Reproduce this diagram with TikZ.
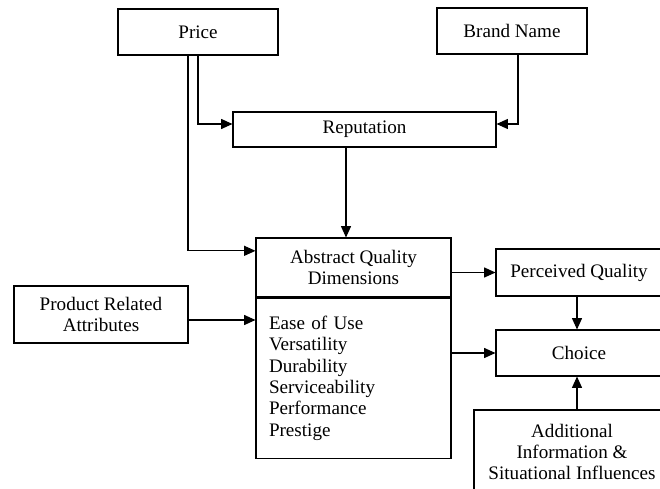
\documentclass[tikz,border=0pt]{standalone}
\usepackage{fontspec}
\setmainfont{Liberation Serif}
\usepackage{tikz}
\usetikzlibrary{positioning,arrows.meta,calc}

\begin{document}
\begin{tikzpicture}[
  line width=0.9pt,
  box/.style={draw, line width=0.9pt, align=center, inner sep=0pt,
              font=\fontsize{16.3}{17.7}\selectfont},
  listbox/.style={draw, line width=0.9pt, align=left, inner xsep=0.39cm,
                  text width=5.07cm, minimum height=4.8cm,
                  font=\fontsize{16.3}{18.2}\selectfont},
  ]
  \useasboundingbox (0,0) rectangle (19.8,-14.67);
  \clip (0,0) rectangle (19.8,-14.67);
  \node[box, minimum width=4.8cm, minimum height=1.38cm] (price) at (5.94,-0.96) {Price};
  \node[box, minimum width=4.5cm, minimum height=1.38cm] (brand) at (15.36,-0.93) {Brand Name};
  \node[box, minimum width=7.89cm, minimum height=1.05cm] (rep) at (10.935,-3.885) {Reputation};
  \node[box, minimum width=5.85cm, minimum height=1.77cm] (aqdtop) at (10.605,-8.025)
    {Abstract Quality\\Dimensions};
  \node[listbox, below=0pt of aqdtop] (aqdlist)
    {Ease of Use\\Versatility\\Durability\\Serviceability\\Performance\\Prestige};
  \node[box, minimum width=5.22cm, minimum height=1.71cm] (pra) at (3.03,-9.435)
    {Product Related\\Attributes};
  \node[box, minimum width=4.98cm, minimum height=1.41cm] (pq) at (17.37,-8.175) {Perceived Quality};
  \node[box, minimum width=4.98cm, minimum height=1.38cm] (choice) at (17.37,-10.59) {Choice};
  \node[box, minimum width=5.88cm, minimum height=2.52cm] (addinfo) at (17.16,-13.56)
    {Additional\\Information \&\\Situational Influences};
  \coordinate (repin) at ($(aqdtop.north)+(-0.225,0)$);
  \draw[-{Triangle[length=3.4mm,width=3mm]}] ([xshift=-0.3cm]price.south) |- ([yshift=0.5cm]aqdtop.west);
  \draw[-{Triangle[length=3.4mm,width=3mm]}] (price.south) |- ([yshift=0.165cm]rep.west);
  \draw[-{Triangle[length=3.4mm,width=3mm]}] ([xshift=0.18cm]brand.south) |- ([yshift=0.165cm]rep.east);
  \draw[-{Triangle[length=3.4mm,width=3mm]}] (rep.south -| repin) -- (repin);
  \draw[-{Triangle[length=3.4mm,width=3mm]}] ([yshift=-0.165cm]pra.east) -- ([yshift=-0.165cm]pra.east -| aqdlist.west);
  \draw[-{Triangle[length=3.4mm,width=3mm]}] (aqdtop.east |- pq.west) -- (pq.west);
  \draw[-{Triangle[length=3.4mm,width=3mm]}] (aqdlist.east |- choice.west) -- (choice.west);
  \draw[-{Triangle[length=3.4mm,width=3mm]}] ([xshift=-0.06cm]pq.south) -- ([xshift=-0.06cm]choice.north);
  \draw[-{Triangle[length=3.4mm,width=3mm]}] ([xshift=-0.06cm]choice.south |- addinfo.north) -- ([xshift=-0.06cm]choice.south);
\end{tikzpicture}
\end{document}
